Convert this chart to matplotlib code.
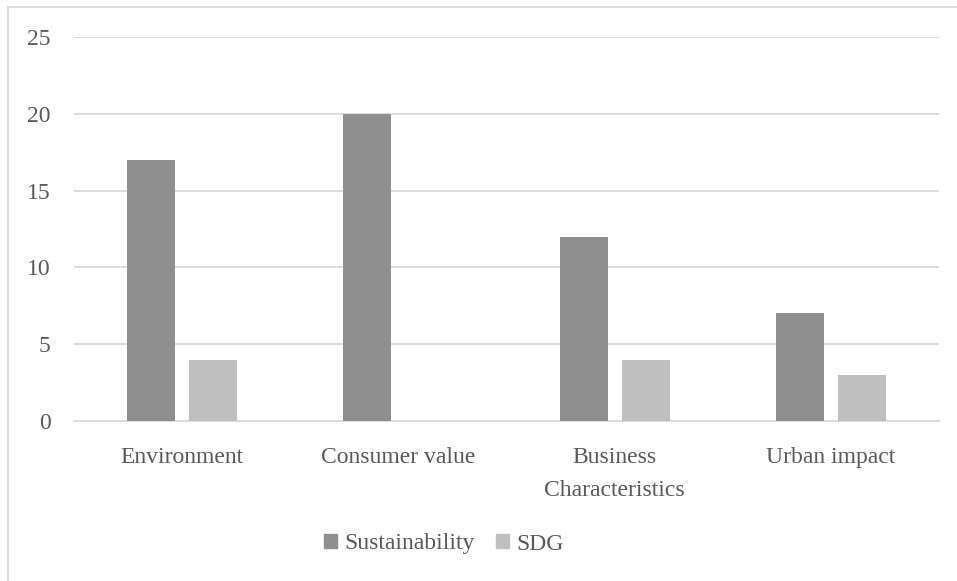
import matplotlib
matplotlib.use("Agg")
import matplotlib.pyplot as plt
import numpy as np
from matplotlib.lines import Line2D
from matplotlib.patches import Patch

categories = ["Environment", "Consumer value", "Business\nCharacteristics", "Urban impact"]
sustainability = [17, 20, 12, 7]
sdg = [4, 0, 4, 3]
yticks = [0, 5, 10, 15, 20, 25]

W, H = 957, 581
fig = plt.figure(figsize=(W/100, H/100), dpi=100)
plt.rcParams['font.family'] = ['Liberation Serif', 'DejaVu Serif']
txt = '#595959'
c1, c2 = '#8f8f8f', '#bfbfbf'
fs = 17

ax = fig.add_axes([74/W, 1-421/H, (939-74)/W, (421-37)/H])
x = np.arange(len(categories))
bw = 48/216
gap = 14/216
ax.bar(x - (bw+gap)/2, sustainability, bw, color=c1, zorder=3)
ax.bar(x + (bw+gap)/2, sdg, bw, color=c2, zorder=3)
ax.set_xlim(-0.5, len(categories)-0.5)
ax.set_ylim(0, 25)
ax.set_yticks(yticks)
ax.yaxis.grid(True, color='#d9d9d9', linewidth=1.3)
ax.set_axisbelow(True)
for s in ['top', 'right', 'left']:
    ax.spines[s].set_visible(False)
ax.spines['bottom'].set_color('#d9d9d9')
ax.spines['bottom'].set_linewidth(1.3)
ax.tick_params(axis='both', length=0, colors=txt, labelsize=fs)
ax.tick_params(axis='y', pad=17)
ax.tick_params(axis='x', pad=18.5)
ax.set_xticks(x)
ax.set_xticklabels(categories, linespacing=1.75)

# outer frame
fig.add_artist(Line2D([8/W, 8/W], [0, 1-7/H], transform=fig.transFigure, color='#d9d9d9', lw=1.3))
fig.add_artist(Line2D([8/W, 1], [1-7/H, 1-7/H], transform=fig.transFigure, color='#d9d9d9', lw=1.3))

handles = [Patch(color=c1, label='Sustainability'), Patch(color=c2, label='SDG')]
leg = fig.legend(handles=handles, loc='center', bbox_to_anchor=(444/W, 1-544/H), ncol=2,
                 frameon=False, fontsize=fs, handlelength=0.55, handleheight=0.55,
                 handletextpad=0.3, columnspacing=0.9, labelcolor=txt)

fig.savefig('out.png', dpi=100)
